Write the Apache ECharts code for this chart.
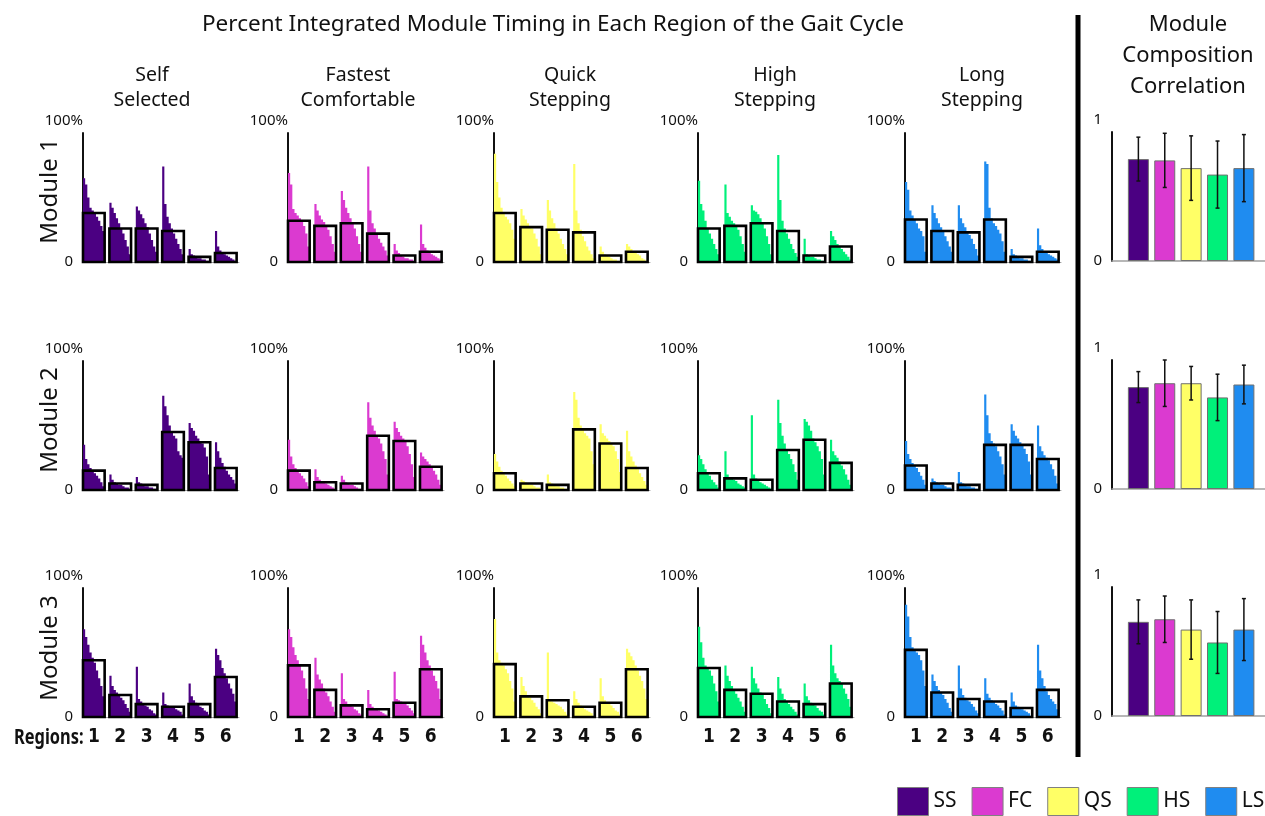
<!DOCTYPE html>
<html>
<head>
<meta charset="utf-8">
<script src="https://cdn.jsdelivr.net/npm/echarts@6/dist/echarts.min.js"></script>
<style>
  html, body { margin: 0; padding: 0; background: #fff; }
  #chart { width: 1265px; height: 816px; }
</style>
</head>
<body>
<div id="chart"></div>
<script>
// ---- labels ----
const methods = ['SS', 'FC', 'QS', 'HS', 'LS'];
const methodTitles = ['Self\nSelected', 'Fastest\nComfortable', 'Quick\nStepping', 'High\nStepping', 'Long\nStepping'];
const methodColors = ['#4b0082', '#db3ad0', '#ffff66', '#00f07a', '#1f8cf0'];
const moduleNames = ['Module 1', 'Module 2', 'Module 3'];
const regionLabels = ['1', '2', '3', '4', '5', '6'];

// ---- per-subject integrated timing (%), sorted high to low, one list per region ----
const m1SS = [[65,60,50,42,40,38,35,32,28,24],[46,42,38,34,30,26,22,17,12,6],[43,40,37,34,30,27,22,17,12,8],[74,45,35,30,26,22,18,14,10,6],[10,6,5,4,3,3,2,2,1,1],[24,12,9,7,6,5,4,3,2,1]];
const m1FC = [[69,60,41,38,36,34,32,28,22,12],[45,40,36,33,31,28,25,20,14,8],[55,48,42,38,34,30,26,20,14,8],[74,40,30,26,22,18,15,12,9,5],[14,9,7,5,4,3,3,2,2,1],[29,14,11,9,7,6,5,4,3,2]];
const m1QS = [[84,62,50,42,38,35,33,30,25,18],[41,36,33,30,28,26,22,18,12,6],[48,40,34,30,26,22,18,14,10,6],[76,40,30,25,20,16,12,9,6,3],[12,8,6,5,4,3,2,2,1,1],[14,12,10,8,7,6,5,3,2,1]];
const m1HS = [[63,45,40,32,26,22,18,14,10,6],[60,38,35,32,30,28,25,20,14,8],[44,40,39,37,34,30,26,20,14,6],[83,48,32,26,22,18,14,10,7,4],[18,6,5,4,4,3,2,2,1,1],[24,20,17,14,12,10,8,6,4,2]];
const m1LS = [[62,56,40,36,33,30,26,24,20,8],[44,38,34,30,27,24,20,16,12,8],[44,34,30,27,24,21,18,14,10,5],[78,76,42,34,30,28,25,22,16,8],[10,6,5,4,3,3,2,2,1,1],[26,13,10,8,7,6,5,4,3,2]];

const m2SS = [[35,24,20,17,15,13,11,9,6,3],[12,8,6,5,4,4,3,2,2,1],[10,6,5,4,3,3,2,2,1,1],[73,65,58,50,45,42,40,30,27,25],[52,48,46,42,40,38,36,33,26,12],[37,30,25,21,18,15,12,10,8,5]];
const m2FC = [[39,26,20,17,15,13,11,9,6,3],[16,10,8,7,6,5,4,3,2,1],[11,8,6,5,4,4,3,2,1,1],[68,56,50,46,42,40,36,30,24,12],[53,48,45,42,40,38,34,28,20,10],[29,26,24,22,20,18,15,12,8,4]];
const m2QS = [[28,22,18,15,13,11,9,7,5,3],[8,7,6,5,4,4,3,2,2,1],[12,6,5,4,3,3,2,2,1,1],[76,70,56,50,47,44,42,40,30,20],[51,44,42,40,38,36,34,30,24,14],[46,30,26,22,19,16,13,10,7,4]];
const m2HS = [[27,24,20,16,13,11,8,6,4,2],[30,12,10,9,8,7,5,4,3,2],[58,12,9,8,6,5,4,3,2,1],[70,52,42,36,31,28,24,20,14,8],[55,53,50,46,40,37,34,30,24,12],[39,30,27,25,22,19,16,12,8,4]];
const m2LS = [[38,28,24,21,19,17,14,11,8,4],[9,7,6,5,4,4,3,2,2,1],[14,6,5,4,3,3,2,2,1,1],[74,58,44,38,36,34,30,26,20,12],[51,46,42,40,37,35,32,28,22,12],[50,34,30,27,25,23,20,16,11,5]];

const m3SS = [[68,62,56,50,46,42,36,30,24,16],[32,24,21,19,17,15,13,10,7,4],[39,14,12,10,9,8,6,5,3,2],[19,10,9,8,8,7,6,5,4,2],[26,16,13,11,10,8,7,5,4,2],[53,48,44,38,34,30,26,22,18,12]];
const m3FC = [[68,62,54,48,44,40,36,30,22,14],[46,33,29,26,22,19,16,12,8,4],[34,14,12,10,9,8,6,5,3,2],[21,10,8,7,6,5,4,3,2,1],[35,14,13,12,11,10,9,7,5,3],[63,56,50,44,40,36,32,28,22,14]];
const m3QS = [[76,50,44,42,40,37,34,28,22,12],[31,24,20,17,15,13,11,8,6,3],[50,14,12,11,10,9,8,6,4,2],[20,14,11,9,7,6,5,4,3,1],[30,16,13,11,10,9,7,5,4,2],[53,50,47,44,40,36,32,28,22,14]];
const m3HS = [[70,58,46,40,38,36,32,26,20,12],[40,32,28,24,21,18,15,12,8,4],[39,30,26,22,19,17,14,10,7,3],[31,22,18,14,12,10,8,6,4,2],[26,16,13,11,10,9,7,5,4,2],[56,40,34,30,28,26,22,18,14,8]];
const m3LS = [[87,78,62,54,52,50,48,44,36,24],[33,28,24,21,19,17,14,11,7,4],[40,22,17,15,13,12,10,8,5,3],[30,18,15,13,12,10,9,7,5,2],[19,12,9,8,7,6,5,4,3,1],[56,36,30,24,20,17,14,12,10,6]];

// ---- group means (%), one per region ----
const m1SSMean = [38,26,26,24,4,7];
const m1FCMean = [32,28,30,22,5,8];
const m1QSMean = [38,27,25,23,5,8];
const m1HSMean = [26,28,30,24,5,12];
const m1LSMean = [33,24,23,33,4,8];
const m2SSMean = [15,5,4,45,37,17];
const m2FCMean = [15,6,5,42,38,18];
const m2QSMean = [13,5,4,47,36,17];
const m2HSMean = [13,9,8,31,39,21];
const m2LSMean = [19,5,4,35,35,24];
const m3SSMean = [44,17,10,8,10,31];
const m3FCMean = [40,21,9,6,11,37];
const m3QSMean = [41,16,13,8,11,37];
const m3HSMean = [38,21,18,12,10,26];
const m3LSMean = [52,19,14,12,7,21];

// ---- module composition correlation (mean and SD per condition) ----
const corrM1Mean = [0.79,0.78,0.72,0.67,0.72];
const corrM1SD   = [0.17,0.21,0.25,0.26,0.26];
const corrM2Mean = [0.79,0.82,0.82,0.71,0.81];
const corrM2SD   = [0.12,0.18,0.13,0.18,0.15];
const corrM3Mean = [0.73,0.75,0.67,0.57,0.67];
const corrM3SD   = [0.17,0.18,0.23,0.24,0.24];

const distByModule = [[m1SS,m1FC,m1QS,m1HS,m1LS],[m2SS,m2FC,m2QS,m2HS,m2LS],[m3SS,m3FC,m3QS,m3HS,m3LS]];
const meanByModule = [[m1SSMean,m1FCMean,m1QSMean,m1HSMean,m1LSMean],[m2SSMean,m2FCMean,m2QSMean,m2HSMean,m2LSMean],[m3SSMean,m3FCMean,m3QSMean,m3HSMean,m3LSMean]];
const corrMeans = [corrM1Mean, corrM2Mean, corrM3Mean];
const corrSDs = [corrM1SD, corrM2SD, corrM3SD];

// ---- layout ----
const FONT = "'Noto Sans', 'Open Sans', sans-serif";
const NARROW = "'DejaVu Sans Condensed', 'Liberation Sans Narrow', 'Noto Sans', sans-serif";
const colLefts = [83, 288, 494, 698, 905];
const rowTops = [133, 361, 588];
const PANEL_H = 129;
const HALF = 0.41; // half box width in region units

const grids = [], xAxes = [], yAxes = [], series = [];

function yAxisFor(gi, topName, nameRight) {
  return {
    gridIndex: gi, type: 'value', min: 0, max: topName === '1' ? 1 : 100,
    interval: topName === '1' ? 1 : 100,
    name: topName, nameLocation: 'end', nameGap: 5,
    nameTextStyle: { fontFamily: FONT, fontSize: 15, color: '#111', align: 'right', verticalAlign: 'bottom', padding: [0, nameRight, 0, 0] },
    axisLine: { show: true, lineStyle: { color: '#111', width: 2 } },
    axisTick: { show: false },
    splitLine: { show: false },
    axisLabel: { fontFamily: FONT, fontSize: 15, color: '#111', margin: 10, formatter: v => (v === 0 ? '0' : '') }
  };
}

rowTops.forEach((top, r) => {
  colLefts.forEach((left, c) => {
    const gi = grids.length;
    grids.push({ left: left, top: top, width: 156, height: PANEL_H });
    xAxes.push({
      gridIndex: gi, type: 'value', min: 0.59, max: 6.5,
      axisLine: { show: true, onZero: false, lineStyle: { color: '#a0a0a0', width: 1 } },
      axisTick: { show: false }, splitLine: { show: false },
      axisLabel: r === 2 ? {
        show: true, customValues: [1, 2, 3, 4, 5, 6], margin: 11,
        fontFamily: NARROW, fontSize: 19, fontWeight: 'bold', color: '#111',
        formatter: v => regionLabels[Math.round(v) - 1]
      } : { show: false }
    });
    yAxes.push(yAxisFor(gi, '100%', 0));

    const dist = distByModule[r][c];
    const color = methodColors[c];
    series.push({
      type: 'custom', xAxisIndex: gi, yAxisIndex: gi, silent: true,
      data: dist.map((vals, i) => [i + 1, vals[0]]),
      renderItem: (params, api) => {
        const x = api.value(0);
        const vals = dist[x - 1];
        const n = vals.length;
        const x0 = x - HALF, x1 = x + HALF;
        const pts = [api.coord([x0, 0])];
        vals.forEach((v, j) => {
          pts.push(api.coord([x0 + (x1 - x0) * j / n, v]));
          pts.push(api.coord([x0 + (x1 - x0) * (j + 1) / n, v]));
        });
        pts.push(api.coord([x1, 0]));
        return { type: 'polygon', shape: { points: pts }, style: { fill: color } };
      }
    });

    const means = meanByModule[r][c];
    series.push({
      type: 'custom', xAxisIndex: gi, yAxisIndex: gi, silent: true, z: 3,
      data: means.map((m, i) => [i + 1, m]),
      renderItem: (params, api) => {
        const x = api.value(0), v = api.value(1);
        const p0 = api.coord([x - HALF, v]);
        const p1 = api.coord([x + HALF, 0]);
        return {
          type: 'rect',
          shape: { x: p0[0], y: p0[1], width: p1[0] - p0[0], height: p1[1] - p0[1] },
          style: { fill: 'none', stroke: '#000', lineWidth: 2.6 }
        };
      }
    });
  });

  // correlation panel for this module
  const gi = grids.length;
  grids.push({ left: 1112, top: top - 1, width: 153, height: PANEL_H });
  xAxes.push({
    gridIndex: gi, type: 'value', min: 0, max: 5.8,
    axisLine: { show: true, onZero: false, lineStyle: { color: '#a0a0a0', width: 1.5 } },
    axisTick: { show: false }, splitLine: { show: false }, axisLabel: { show: false }
  });
  yAxes.push(yAxisFor(gi, '1', 10));
  const cm = corrMeans[r], cs = corrSDs[r];
  methods.forEach((name, k) => {
    series.push({
      type: 'bar', name: name, xAxisIndex: gi, yAxisIndex: gi,
      data: [[k + 1, cm[k]]], barWidth: 21, barGap: '-100%', silent: true,
      itemStyle: { color: methodColors[k], borderColor: '#707070', borderWidth: 1 }
    });
  });
  series.push({
    type: 'custom', xAxisIndex: gi, yAxisIndex: gi, silent: true, z: 5,
    data: cm.map((m, k) => [k + 1, m, cs[k]]),
    renderItem: (params, api) => {
      const x = api.value(0), m = api.value(1), s = api.value(2);
      const hi = api.coord([x, m + s]);
      const lo = api.coord([x, m - s]);
      const st = { stroke: '#111', lineWidth: 1.5 };
      return {
        type: 'group', children: [
          { type: 'line', shape: { x1: hi[0], y1: hi[1], x2: lo[0], y2: lo[1] }, style: st },
          { type: 'line', shape: { x1: hi[0] - 2, y1: hi[1], x2: hi[0] + 2, y2: hi[1] }, style: st },
          { type: 'line', shape: { x1: lo[0] - 2, y1: lo[1], x2: lo[0] + 2, y2: lo[1] }, style: st }
        ]
      };
    }
  });
});

// ---- headings and annotations ----
const graphic = [
  { type: 'text', style: { text: 'Percent Integrated Module Timing in Each Region of the Gait Cycle', x: 553, y: 25, align: 'center', verticalAlign: 'middle', font: '22.5px ' + FONT, fill: '#111' } },
  { type: 'text', style: { text: 'Module\nComposition\nCorrelation', x: 1188, y: 56, align: 'center', verticalAlign: 'middle', font: '22px ' + FONT, lineHeight: 31, fill: '#111' } },
  { type: 'line', shape: { x1: 1078, y1: 15, x2: 1078, y2: 757 }, style: { stroke: '#000', lineWidth: 5 } },
  { type: 'text', x: 14, y: 738, scaleX: 0.78, style: { text: 'Regions:', x: 0, y: 0, align: 'left', verticalAlign: 'middle', font: 'bold 21px ' + FONT, fill: '#111' } }
];
const titleCenters = [152, 358, 570, 775, 982];
methodTitles.forEach((t, c) => {
  graphic.push({ type: 'text', style: { text: t, x: titleCenters[c], y: 88, align: 'center', verticalAlign: 'middle', font: '19.5px ' + FONT, lineHeight: 25, fill: '#111' } });
});
const moduleCenters = [191, 420, 648];
moduleNames.forEach((t, r) => {
  graphic.push({ type: 'text', x: 50, y: moduleCenters[r], rotation: Math.PI / 2, style: { text: t, x: 0, y: 0, align: 'center', verticalAlign: 'middle', font: '24px ' + FONT, fill: '#111' } });
});

const chart = echarts.init(document.getElementById('chart'), null, { renderer: 'canvas' });
chart.setOption({
  animation: false,
  backgroundColor: '#fff',
  grid: grids,
  xAxis: xAxes,
  yAxis: yAxes,
  series: series,
  graphic: graphic,
  legend: {
    data: methods, left: 897, top: 787, width: 368, icon: 'rect',
    itemWidth: 31, itemHeight: 28, itemGap: 15, selectedMode: false, padding: 0,
    itemStyle: { borderColor: '#808080', borderWidth: 1 },
    textStyle: { fontFamily: FONT, fontSize: 21, color: '#111' }
  }
});
</script>
</body>
</html>
